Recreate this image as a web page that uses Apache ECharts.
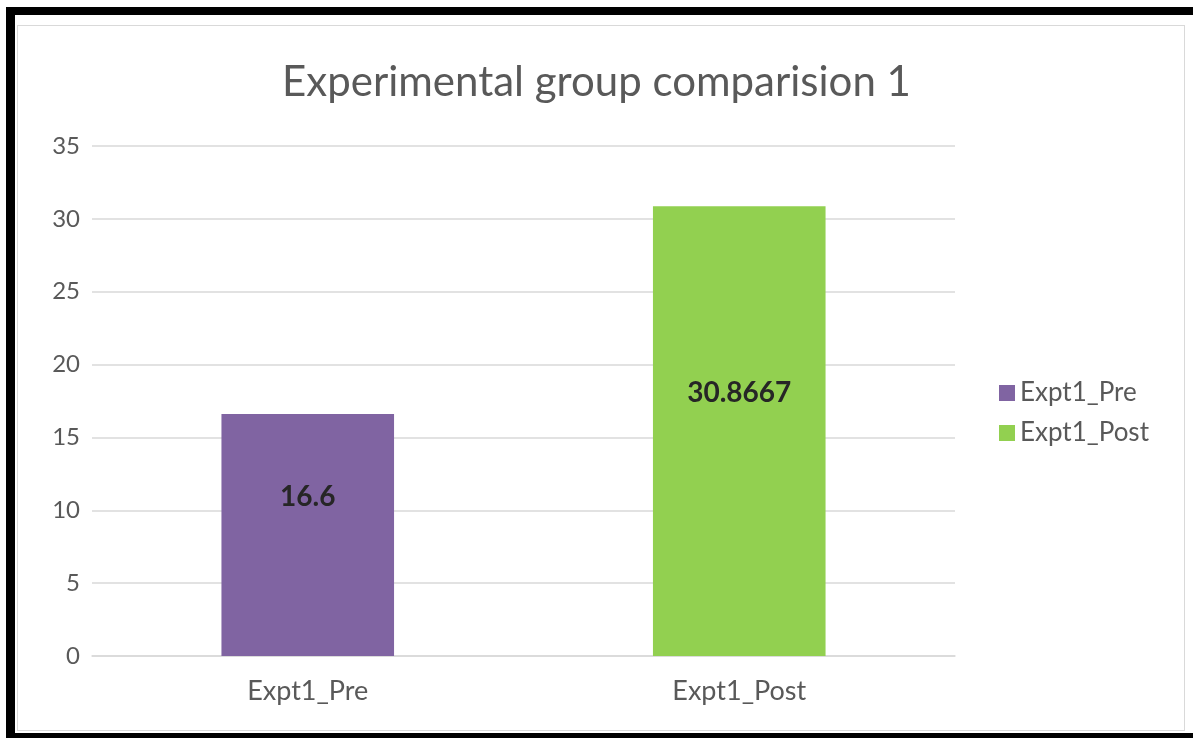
<!DOCTYPE html>
<html>
<head>
<meta charset="utf-8">
<script src="https://cdn.jsdelivr.net/npm/echarts@6/dist/echarts.min.js"></script>
<style>
html,body{margin:0;padding:0;background:#fff;width:1193px;height:738px;overflow:hidden;}
#frameTop{position:absolute;left:6px;top:7px;width:1187px;height:8px;background:#000;}
#frameLeft{position:absolute;left:6px;top:7px;width:9px;height:731px;background:#000;}
#frameBottom{position:absolute;left:6px;top:733px;width:1187px;height:5px;background:#000;}
#inner{position:absolute;left:17px;top:25px;width:1168px;height:706px;border:1px solid #d9d9d9;box-sizing:border-box;}
#chart{position:absolute;left:0;top:0;width:1193px;height:738px;}
</style>
</head>
<body>
<div id="frameTop"></div><div id="frameLeft"></div><div id="frameBottom"></div>
<div id="inner"></div>
<div id="chart"></div>
<script>
const titleText = 'Experimental group comparision 1';
const categories = ['Expt1_Pre', 'Expt1_Post'];
const seriesNames = ['Expt1_Pre', 'Expt1_Post'];
const preValues = [16.6, '-'];
const postValues = ['-', 30.8667];
const yTicks = {min: 0, max: 35, interval: 5};
const colors = ['#8064A2', '#92D050'];

const font = 'Lato, "Open Sans", sans-serif';
const chart = echarts.init(document.getElementById('chart'), null, {renderer: 'canvas'});
const labelCfg = {
  show: true, position: 'inside', offset: [0, -38],
  color: '#262626', fontWeight: 'bold', fontSize: 28, fontFamily: font,
  formatter: p => String(p.value)
};
chart.setOption({
  backgroundColor: 'transparent',
  animation: false,
  title: {
    text: titleText, left: 'center', top: 56,
    textStyle: {color: '#595959', fontSize: 42, fontWeight: 'normal', fontFamily: font}
  },
  legend: {
    data: seriesNames, orient: 'vertical', left: 994, top: 375, itemGap: 14,
    itemWidth: 16, itemHeight: 16, icon: 'rect',
    textStyle: {color: '#595959', fontSize: 26, fontFamily: font}
  },
  grid: {left: 92, right: 238, top: 146, bottom: 82},
  xAxis: {
    type: 'category', data: categories,
    axisLine: {lineStyle: {color: '#d9d9d9', width: 1.5}},
    axisTick: {show: false},
    axisLabel: {color: '#595959', fontSize: 27, fontFamily: font, margin: 22}
  },
  yAxis: {
    type: 'value', min: yTicks.min, max: yTicks.max, interval: yTicks.interval,
    axisLine: {show: false}, axisTick: {show: false},
    splitLine: {lineStyle: {color: '#d9d9d9', width: 1.5}},
    axisLabel: {color: '#595959', fontSize: 24, fontFamily: font, margin: 12}
  },
  series: [
    {name: seriesNames[0], type: 'bar', data: preValues, barWidth: '40%', barGap: '-100%',
     itemStyle: {color: colors[0]}, label: labelCfg},
    {name: seriesNames[1], type: 'bar', data: postValues, barWidth: '40%', barGap: '-100%',
     itemStyle: {color: colors[1]}, label: labelCfg}
  ]
});
</script>
</body>
</html>
